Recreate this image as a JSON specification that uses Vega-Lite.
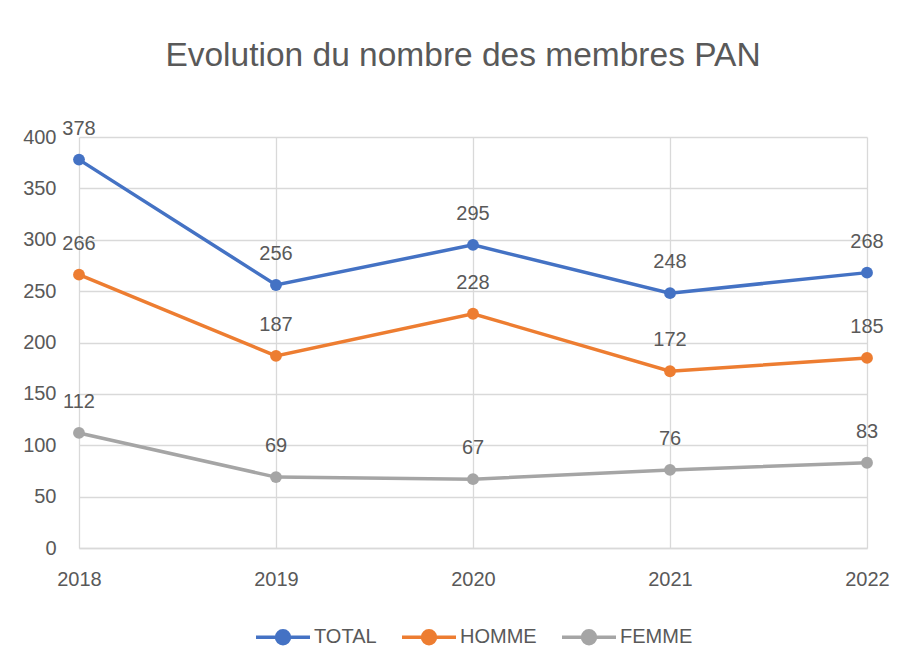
{
  "$schema": "https://vega.github.io/schema/vega-lite/v6.json",
  "width": 788,
  "height": 411,
  "autosize": {"type": "none"},
  "padding": {"left": 79, "top": 137, "right": 38, "bottom": 123},
  "background": "white",
  "title": {
    "text": "Evolution du nombre des membres PAN",
    "fontSize": 33.5,
    "font": "Liberation Sans",
    "fontWeight": "normal",
    "color": "#595959",
    "anchor": "middle",
    "frame": "group",
    "baseline": "alphabetic",
    "offset": 19,
    "dx": -10
  },
  "config": {
    "font": "Liberation Sans",
    "view": {"stroke": null},
    "axis": {
      "labelFont": "Liberation Sans",
      "labelFontSize": 20,
      "labelColor": "#595959",
      "gridColor": "#D9D9D9",
      "gridWidth": 1.3,
      "ticks": false,
      "title": null
    },
    "legend": {
      "labelFont": "Liberation Sans",
      "labelFontSize": 20,
      "labelColor": "#595959",
      "layout": {"bottom": {"anchor": "middle"}}
    }
  },
  "data": {
    "values": [
      {"annee": "2018", "serie": "TOTAL", "valeur": 378},
      {"annee": "2019", "serie": "TOTAL", "valeur": 256},
      {"annee": "2020", "serie": "TOTAL", "valeur": 295},
      {"annee": "2021", "serie": "TOTAL", "valeur": 248},
      {"annee": "2022", "serie": "TOTAL", "valeur": 268},
      {"annee": "2018", "serie": "HOMME", "valeur": 266},
      {"annee": "2019", "serie": "HOMME", "valeur": 187},
      {"annee": "2020", "serie": "HOMME", "valeur": 228},
      {"annee": "2021", "serie": "HOMME", "valeur": 172},
      {"annee": "2022", "serie": "HOMME", "valeur": 185},
      {"annee": "2018", "serie": "FEMME", "valeur": 112},
      {"annee": "2019", "serie": "FEMME", "valeur": 69},
      {"annee": "2020", "serie": "FEMME", "valeur": 67},
      {"annee": "2021", "serie": "FEMME", "valeur": 76},
      {"annee": "2022", "serie": "FEMME", "valeur": 83}
    ]
  },
  "encoding": {
    "x": {
      "field": "annee",
      "type": "ordinal",
      "scale": {"type": "point", "padding": 0},
      "axis": {
        "labelAngle": 0,
        "grid": true,
        "domain": true,
        "domainColor": "#D9D9D9",
        "domainWidth": 1.3,
        "labelPadding": 21
      }
    },
    "y": {
      "field": "valeur",
      "type": "quantitative",
      "scale": {"domain": [0, 400]},
      "axis": {
        "values": [0, 50, 100, 150, 200, 250, 300, 350, 400],
        "domain": false,
        "grid": true,
        "labelPadding": 23
      }
    },
    "color": {
      "field": "serie",
      "type": "nominal",
      "scale": {
        "domain": ["TOTAL", "HOMME", "FEMME"],
        "range": ["#4472C4", "#ED7D31", "#A5A5A5"]
      },
      "legend": {
        "title": null,
        "orient": "bottom",
        "direction": "horizontal",
        "offset": 19,
        "symbolType": "M-1,0H1M0.24,0A0.24,0.24 0 1,1 -0.24,0A0.24,0.24 0 1,1 0.24,0Z",
        "symbolSize": 2916,
        "symbolStrokeWidth": 3.5,
        "labelOffset": 2,
        "columnPadding": 18
      }
    }
  },
  "layer": [
    {"mark": {"type": "line", "strokeWidth": 3.5}},
    {"mark": {"type": "point", "filled": true, "size": 140, "opacity": 1}},
    {
      "mark": {
        "type": "text",
        "dy": -31,
        "fontSize": 20,
        "font": "Liberation Sans",
        "color": "#595959"
      },
      "encoding": {
        "text": {"field": "valeur", "type": "quantitative"},
        "color": {"value": "#595959"}
      }
    }
  ]
}
